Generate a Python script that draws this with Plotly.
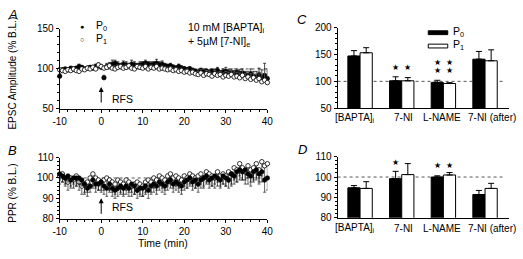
import plotly.graph_objects as go

W, H = 523, 259

# ---------------- data ----------------
time_min = [round(-10 + 2 * k / 3, 3) for k in range(76)]
time_ticks = [-10, 0, 10, 20, 30, 40]
time_tick_labels = ["-10", "0", "10", "20", "30", "40"]

epsc_p0 = [91, 99, 100, 99, 101, 100, 101, 103, 102, 100,
           101, 102, 101, 103, 104, 102, 89, 103, 104, 106,
           107, 105, 104, 106, 105, 104, 106, 105, 104, 105,
           106, 107, 106, 105, 106, 107, 105, 106, 104, 103,
           104, 102, 101, 103, 101, 100, 99, 100, 98, 97,
           95, 98, 96, 97, 95, 97, 96, 98, 95, 96,
           97, 95, 96, 93, 96, 94, 95, 93, 92, 94,
           91, 90, 93, 89, 92, 88]
epsc_p0_err = [3, 2, 2, 2, 2, 2, 2, 3, 2, 2,
               2, 2, 2, 3, 3, 3, 3, 4, 4, 5,
               4, 4, 3, 4, 4, 3, 5, 4, 3, 4,
               3, 4, 3, 4, 3, 5, 4, 4, 3, 3,
               3, 3, 3, 3, 3, 3, 3, 3, 3, 3,
               4, 3, 4, 3, 4, 3, 4, 4, 3, 4,
               5, 4, 4, 5, 4, 5, 5, 4, 5, 6,
               6, 7, 8, 10, 15, 12]
epsc_p1 = [99, 98, 97, 99, 98, 100, 98, 97, 100, 99,
           101, 100, 102, 100, 105, 103, 101, 102, 104, 101,
           100, 102, 103, 101, 102, 104, 101, 100, 103, 102,
           101, 103, 100, 102, 101, 103, 100, 101, 100, 99,
           100, 98, 99, 97, 98, 96, 97, 95, 96, 94,
           93, 95, 92, 94, 93, 91, 94, 92, 93, 90,
           92, 91, 93, 90, 91, 89, 92, 88, 90, 87,
           89, 86, 88, 84, 86, 83]
epsc_p1_err = [2, 2, 2, 2, 2, 2, 2, 2, 2, 2,
               2, 2, 3, 2, 3, 3, 2, 3, 3, 3,
               3, 3, 3, 3, 3, 3, 3, 3, 3, 3,
               3, 3, 3, 3, 3, 3, 3, 3, 3, 3,
               3, 3, 3, 3, 3, 3, 3, 3, 3, 3,
               4, 4, 4, 4, 4, 4, 4, 4, 4, 5,
               5, 5, 5, 5, 5, 6, 6, 6, 6, 7,
               7, 8, 9, 10, 12, 14]

ppr_p0 = [102, 101, 100, 101, 99, 100, 100, 100, 99, 97,
          95, 96, 99, 97, 97, 98, 96, 95, 97, 95,
          94, 95, 96, 95, 96, 95, 97, 96, 94, 95,
          95, 96, 94, 96, 97, 96, 98, 97, 96, 98,
          99, 97, 98, 97, 96, 98, 99, 100, 98, 99,
          97, 99, 100, 101, 99, 100, 101, 100, 99, 101,
          100, 99, 102, 101, 103, 104, 103, 104, 102, 101,
          103, 104, 102, 103, 99, 100]
ppr_p0_err = [3, 3, 3, 3, 3, 3, 4, 3, 3, 4,
              4, 3, 4, 4, 3, 4, 4, 4, 4, 4,
              4, 4, 4, 4, 4, 4, 4, 4, 4, 4,
              4, 4, 4, 4, 4, 4, 4, 4, 4, 4,
              4, 4, 4, 4, 4, 4, 4, 4, 4, 4,
              4, 4, 4, 4, 4, 4, 4, 4, 4, 4,
              4, 4, 5, 4, 5, 5, 4, 5, 5, 5,
              5, 5, 5, 5, 6, 6]
ppr_p1 = [101, 102, 100, 98, 100, 99, 101, 98, 96, 97,
          98, 100, 102, 100, 99, 98, 99, 100, 99, 98,
          97, 99, 98, 97, 99, 98, 96, 97, 98, 97,
          96, 98, 99, 98, 100, 99, 101, 100, 99, 101,
          102, 100, 101, 100, 99, 101, 100, 102, 101, 100,
          101, 102, 100, 103, 102, 101, 100, 103, 101, 102,
          101, 103, 102, 105, 104, 107, 105, 103, 106, 104,
          105, 107, 104, 108, 106, 107]
ppr_p1_err = [4, 4, 4, 4, 5, 4, 5, 4, 4, 5,
              5, 5, 6, 5, 5, 5, 5, 5, 5, 5,
              5, 5, 5, 5, 5, 5, 5, 5, 5, 5,
              5, 5, 5, 5, 5, 5, 5, 5, 5, 5,
              5, 5, 5, 5, 5, 5, 5, 5, 5, 5,
              5, 5, 5, 5, 5, 5, 5, 5, 5, 5,
              5, 5, 6, 6, 6, 6, 6, 6, 6, 6,
              6, 7, 6, 7, 7, 7]

categories = ["[BAPTA]<sub>i</sub>", "7-NI", "L-NAME", "7-NI (after)"]
bar_epsc_p0 = [147.5, 101, 98, 141.5]
bar_epsc_p0_err = [10, 7.5, 4, 14.5]
bar_epsc_p1 = [153.5, 101, 96, 138.5]
bar_epsc_p1_err = [9.5, 6, 1.5, 20.5]
bar_ppr_p0 = [94.7, 99.2, 100, 91.4]
bar_ppr_p0_err = [1.1, 3.6, 0.6, 2.0]
bar_ppr_p1 = [94.4, 101.2, 101, 94.4]
bar_ppr_p1_err = [3.3, 5.4, 1.2, 2.5]

# stars: (category index, series: 0 = P0 / 1 = P1, y value)
stars_c = [(1, 0, 126), (1, 1, 126), (2, 0, 136), (2, 0, 121), (2, 1, 136), (2, 1, 121)]
stars_d = [(1, 0, 107), (1, 1, 111), (2, 0, 105.6), (2, 1, 105.6)]

# ---------------- helpers ----------------
def fx(p):
    return p / W


def fy(p):
    return 1 - p / H


FONT = "Liberation Sans, Arial, Helvetica, sans-serif"
zeros = [0] * len(time_min)
zeros4 = [0] * 4

fig = go.Figure()

# Panel A
fig.add_trace(go.Scatter(
    x=time_min, y=epsc_p0, mode="markers", name="P0",
    marker=dict(symbol="circle", size=4.5, color="black", line=dict(color="black", width=0.6)),
    error_y=dict(type="data", symmetric=False, array=epsc_p0_err, arrayminus=zeros,
                 color="black", thickness=0.7, width=1.5),
    xaxis="x", yaxis="y", cliponaxis=False, showlegend=False))
fig.add_trace(go.Scatter(
    x=time_min, y=epsc_p1, mode="markers", name="P1",
    marker=dict(symbol="circle", size=4.5, color="white", line=dict(color="black", width=0.8)),
    error_y=dict(type="data", symmetric=False, array=epsc_p1_err, arrayminus=zeros,
                 color="#777", thickness=0.6, width=1.5),
    xaxis="x", yaxis="y", cliponaxis=False, showlegend=False))

# Panel B
fig.add_trace(go.Scatter(
    x=time_min, y=ppr_p1, mode="markers", name="P1 PPR",
    marker=dict(symbol="circle", size=4.5, color="white", line=dict(color="black", width=0.8)),
    error_y=dict(type="data", symmetric=False, array=zeros, arrayminus=ppr_p1_err,
                 color="black", thickness=0.6, width=1.5),
    xaxis="x2", yaxis="y2", cliponaxis=False, showlegend=False))
fig.add_trace(go.Scatter(
    x=time_min, y=ppr_p0, mode="markers", name="P0 PPR",
    marker=dict(symbol="circle", size=4.5, color="black", line=dict(color="black", width=0.6)),
    error_y=dict(type="data", symmetric=False, array=zeros, arrayminus=ppr_p0_err,
                 color="black", thickness=0.6, width=1.5),
    xaxis="x2", yaxis="y2", cliponaxis=False, showlegend=False))

# Panel C
fig.add_trace(go.Bar(
    x=categories, y=bar_epsc_p0, name="P0", marker=dict(color="black", line=dict(color="black", width=1)),
    error_y=dict(type="data", symmetric=False, array=bar_epsc_p0_err, arrayminus=zeros4,
                 color="black", thickness=1, width=3),
    xaxis="x3", yaxis="y3", showlegend=False, offsetgroup="a"))
fig.add_trace(go.Bar(
    x=categories, y=bar_epsc_p1, name="P1", marker=dict(color="white", line=dict(color="black", width=1)),
    error_y=dict(type="data", symmetric=False, array=bar_epsc_p1_err, arrayminus=zeros4,
                 color="black", thickness=1, width=3),
    xaxis="x3", yaxis="y3", showlegend=False, offsetgroup="b"))

# Panel D
fig.add_trace(go.Bar(
    x=categories, y=bar_ppr_p0, name="P0", marker=dict(color="black", line=dict(color="black", width=1)),
    error_y=dict(type="data", symmetric=False, array=bar_ppr_p0_err, arrayminus=zeros4,
                 color="black", thickness=1, width=3),
    xaxis="x4", yaxis="y4", showlegend=False, offsetgroup="a"))
fig.add_trace(go.Bar(
    x=categories, y=bar_ppr_p1, name="P1", marker=dict(color="white", line=dict(color="black", width=1)),
    error_y=dict(type="data", symmetric=False, array=bar_ppr_p1_err, arrayminus=zeros4,
                 color="black", thickness=1, width=3),
    xaxis="x4", yaxis="y4", showlegend=False, offsetgroup="b"))

BARGAP = 0.414
half = (1 - BARGAP) / 4  # centre offset of each bar within a group

axis_common = dict(showline=True, linecolor="black", linewidth=1,
                   tickcolor="black", ticklen=3, tickwidth=1, showgrid=False, zeroline=False,
                   tickfont=dict(size=10, color="black", family=FONT))

minor_time = dict(dtick=2, ticklen=2, tickcolor="black", ticks="outside")
fig.update_layout(
    width=W, height=H, margin=dict(l=0, r=0, t=0, b=0),
    paper_bgcolor="white", plot_bgcolor="white",
    font=dict(family=FONT, size=10, color="black"),
    barmode="group", bargap=BARGAP, bargroupgap=0, showlegend=False,
    xaxis=dict(domain=[fx(54), fx(267)], range=[-10, 40], anchor="y", tickvals=time_ticks,
               ticktext=time_tick_labels, ticks="outside", minor=minor_time, **axis_common),
    yaxis=dict(domain=[fy(108), fy(24)], range=[50, 150], anchor="x", tickvals=[50, 100, 150],
               ticks="outside", minor=dict(dtick=10, ticklen=2, tickcolor="black", ticks="outside"),
               **axis_common),
    xaxis2=dict(domain=[fx(54), fx(267)], range=[-10, 40], anchor="y2", tickvals=time_ticks,
                ticktext=time_tick_labels, ticks="outside", minor=minor_time, **axis_common),
    yaxis2=dict(domain=[fy(223), fy(159)], range=[80, 110], anchor="x2", tickvals=[80, 90, 100, 110],
                ticks="outside", minor=dict(dtick=2, ticklen=2, tickcolor="black", ticks="outside"),
                **axis_common),
    xaxis3=dict(domain=[fx(339), fx(515)], range=[-0.54, 3.58], anchor="y3", type="category",
                ticks="", showticklabels=False, **axis_common),
    yaxis3=dict(domain=[fy(107), fy(23)], range=[50, 200], anchor="x3", tickvals=[50, 100, 150, 200],
                ticks="outside", minor=dict(dtick=10, ticklen=2, tickcolor="black", ticks="outside"),
                **axis_common),
    xaxis4=dict(domain=[fx(339), fx(515)], range=[-0.54, 3.58], anchor="y4", type="category",
                ticks="", showticklabels=False, **axis_common),
    yaxis4=dict(domain=[fy(222), fy(158)], range=[80, 110], anchor="x4", tickvals=[80, 90, 100, 110],
                ticks="outside", minor=dict(dtick=2, ticklen=2, tickcolor="black", ticks="outside"),
                **axis_common),
)

# dotted reference lines at 100%
for xr, yr, x1 in [("x domain", "y", 1), ("x2 domain", "y2", 1), ("x3 domain", "y3", 0.97),
                   ("x4 domain", "y4", 0.97)]:
    fig.add_shape(type="line", xref=xr, yref=yr, x0=0, x1=x1, y0=100, y1=100,
                  line=dict(color="#555", width=1, dash="dot"), layer="below")

ann = []


def text(x, y, s, size=10, xanchor="center", yanchor="middle", angle=0, xref="paper", yref="paper"):
    ann.append(dict(x=x, y=y, xref=xref, yref=yref, text=s, showarrow=False, xanchor=xanchor,
                    yanchor=yanchor, textangle=angle, borderpad=0,
                    font=dict(size=size, family=FONT, color="black")))


# panel letters
text(fx(6), fy(9), "<i>A</i>", 13)
text(fx(6), fy(152), "<i>B</i>", 13)
text(fx(303), fy(14), "<i>C</i>", 13)
text(fx(303), fy(150), "<i>D</i>", 13)

# axis titles
text(fx(6), fy(70), "EPSC Amplitude (% B.L.)", 10, angle=-90)
text(fx(6), fy(196), "PPR (% B.L.)", 10, angle=-90)
text(fx(160), fy(248), "Time (min)", 10.5)

# category labels of C and D (placed under their groups)
cat_label_px = [357, 407, 446, 497]
for ypx in (117, 233):
    for lab, xp in zip(categories, cat_label_px):
        text(fx(xp), fy(ypx), lab, 10)

# legend of A (symbol glyphs + labels)
text(fx(77), fy(21), "●", 7)
text(fx(77), fy(35), "○", 7)
text(fx(90), fy(21), "P<sub>0</sub>", 10.5, xanchor="left")
text(fx(90), fy(35), "P<sub>1</sub>", 10.5, xanchor="left")

# condition text in A
text(fx(185), fy(23), "10 mM [BAPTA]<sub>i</sub>", 10.5, xanchor="left")
text(fx(185), fy(38), "+ 5µM [7-NI]<sub>e</sub>", 10.5, xanchor="left")

# RFS arrows
for xr, yr, yhead, ytext in [("x", "y", 77.4, 63), ("x2", "y2", 90, 85.8)]:
    ann.append(dict(x=0, y=yhead, xref=xr, yref=yr, text="", showarrow=True, ax=0, ay=17,
                    arrowhead=2, arrowsize=1, arrowwidth=1, arrowcolor="black"))
    text(2.3, ytext, "RFS", 10.5, xanchor="left", xref=xr, yref=yr)

# legend of C
for ytop, fill, lab in [(26, "black", "P<sub>0</sub>"), (40, "white", "P<sub>1</sub>")]:
    fig.add_shape(type="rect", xref="paper", yref="paper", x0=fx(432), x1=fx(452),
                  y0=fy(ytop + 4), y1=fy(ytop), fillcolor=fill, line=dict(color="black", width=1))
    text(fx(456), fy(ytop + 1), lab, 10.5, xanchor="left")

# significance stars
for stars, xr, yr in [(stars_c, "x3", "y3"), (stars_d, "x4", "y4")]:
    for ci, s, yv in stars:
        xpos = ci + (-half if s == 0 else half)
        text(xpos, yv, "★", 8, xref=xr, yref=yr)

fig.update_layout(annotations=ann)
fig.write_html("out.html", config={"displayModeBar": False},
               post_script="document.body.style.margin='0px';document.body.style.overflow='hidden';")
